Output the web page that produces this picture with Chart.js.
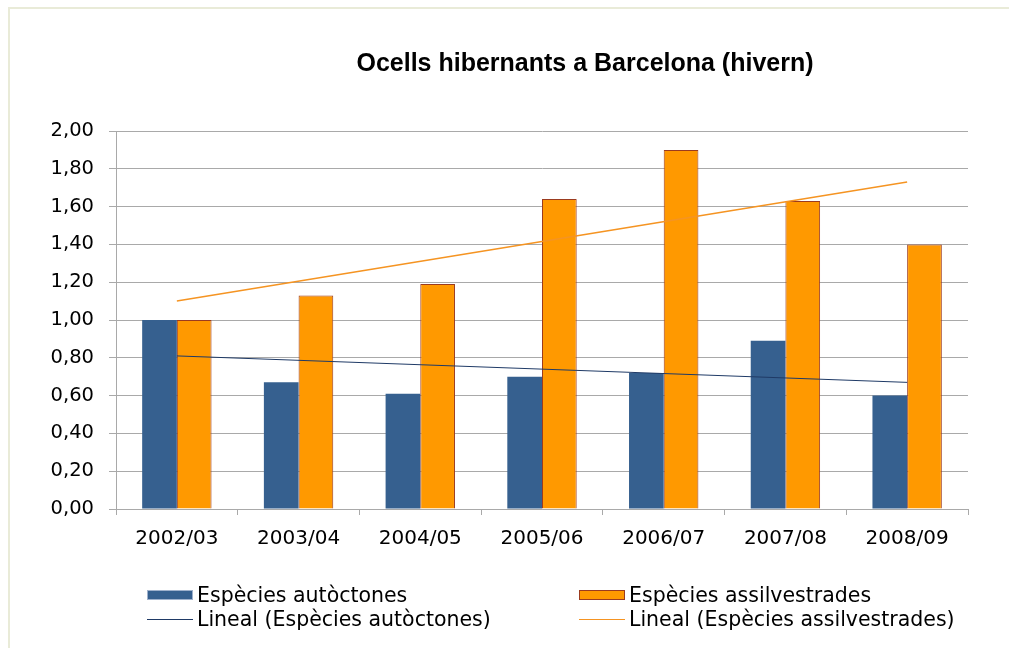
<!DOCTYPE html>
<html>
<head>
<meta charset="utf-8">
<script src="https://cdn.jsdelivr.net/npm/chart.js@4"></script>
<style>
    html, body { margin: 0; padding: 0; background: #fff; overflow: hidden; }
    #wrap { position: relative; width: 1009px; height: 648px; overflow: hidden; }
    #frame { position: absolute; left: 8px; top: 7px; width: 1001px; height: 641px; box-sizing: border-box;
             border-top: 2px solid #e9ebd8; border-left: 2px solid #e9ebd8; }
    #title { position: absolute; left: 285px; width: 600px; top: 47px; text-align: center;
             font: bold 25px "Liberation Sans", Arial, sans-serif; line-height: 30px; color: #000; }
    canvas { position: absolute; left: 0; top: 0; }
    .leg { position: absolute; font: 20.5px "DejaVu Sans", sans-serif; line-height: 24px; color: #000; white-space: nowrap; }
    .sw { position: absolute; }
</style>
</head>
<body>
<div id="wrap">
    <div id="frame"></div>
    <canvas id="birdsChart" width="1009" height="648"></canvas>
    <div id="title">Ocells hibernants a Barcelona (hivern)</div>
    <div id="legend"></div>
</div>
<script>
// data
const seasons = ['2002/03', '2003/04', '2004/05', '2005/06', '2006/07', '2007/08', '2008/09'];
const autoctones = [1.00, 0.67, 0.61, 0.70, 0.72, 0.89, 0.60];
const assilvestrades = [1.00, 1.13, 1.19, 1.64, 1.90, 1.63, 1.40];
// trend lines (start and end values as drawn)
const trendAutoctones = [0.81, null, null, null, null, null, 0.67];
const trendAssilvestrades = [1.10, null, null, null, null, null, 1.73];
const yTickLabels = ['0,00', '0,20', '0,40', '0,60', '0,80', '1,00', '1,20', '1,40', '1,60', '1,80', '2,00'];

const BLUE = '#36608f';
const ORANGE = '#ff9900';
const ORANGE_EDGE = '#9b3b1f';
const GRID = '#a9a9a9';

const ctx = document.getElementById('birdsChart');

const chart = new Chart(ctx, {
    type: 'bar',
    data: {
        labels: seasons,
        datasets: [
            {
                label: 'Espècies autòctones',
                data: autoctones,
                backgroundColor: BLUE,
                borderWidth: 0,
                order: 1
            },
            {
                label: 'Espècies assilvestrades',
                data: assilvestrades,
                backgroundColor: ORANGE,
                borderColor: ORANGE_EDGE,
                borderWidth: 1,
                order: 1
            },
            {
                type: 'line',
                label: 'Lineal (Espècies autòctones)',
                data: trendAutoctones,
                borderColor: '#1f3a66',
                borderWidth: 1,
                pointRadius: 0,
                spanGaps: true,
                order: 0
            },
            {
                type: 'line',
                label: 'Lineal (Espècies assilvestrades)',
                data: trendAssilvestrades,
                borderColor: '#f59422',
                borderWidth: 1.5,
                pointRadius: 0,
                spanGaps: true,
                order: 0
            }
        ]
    },
    options: {
        responsive: false,
        animation: false,
        datasets: { bar: { categoryPercentage: 0.57, barPercentage: 1.0 } },
        layout: { padding: { left: 0, right: 41, top: 131, bottom: 0 } },
        plugins: {
            legend: { display: false },
            title: { display: false },
            tooltip: { enabled: false }
        },
        scales: {
            x: {
                grid: { drawOnChartArea: false, drawTicks: true, tickLength: 6, color: GRID },
                border: { color: GRID, width: 1 },
                ticks: {
                    color: '#000', padding: 12, maxRotation: 0,
                    font: { family: 'DejaVu Sans', size: 20 }
                },
                afterFit: function (scale) { scale.height = 139; }
            },
            y: {
                min: 0,
                max: 2,
                grid: { color: GRID, tickLength: 7 },
                border: { color: GRID, width: 1 },
                ticks: {
                    stepSize: 0.2,
                    color: '#000',
                    padding: 15,
                    font: { family: 'DejaVu Sans', size: 19.5 },
                    callback: function (value, index) { return yTickLabels[index]; }
                },
                afterFit: function (scale) { scale.width = 116; }
            }
        }
    }
});

// legend in two columns, built from the datasets
const legendBox = document.getElementById('legend');
const colX = [147, 579];
const rowTop = [583, 607];
chart.data.datasets.forEach(function (ds, i) {
    const col = i % 2, row = Math.floor(i / 2);
    const sw = document.createElement('div');
    sw.className = 'sw';
    if (ds.type === 'line') {
        sw.style.cssText = `left:${colX[col]}px; top:${rowTop[row] + 12}px; width:46px; height:1px; background:${ds.borderColor};`;
    } else {
        const edge = ds.borderWidth ? ds.borderColor : '#9fb1cc';
        sw.style.cssText = `left:${colX[col]}px; top:${rowTop[row] + 7}px; width:44px; height:8px; background:${ds.backgroundColor}; border:1px solid ${edge};`;
    }
    legendBox.appendChild(sw);

    const txt = document.createElement('div');
    txt.className = 'leg';
    txt.style.left = (colX[col] + 50) + 'px';
    txt.style.top = rowTop[row] + 'px';
    txt.textContent = ds.label;
    legendBox.appendChild(txt);
});
</script>
</body>
</html>
